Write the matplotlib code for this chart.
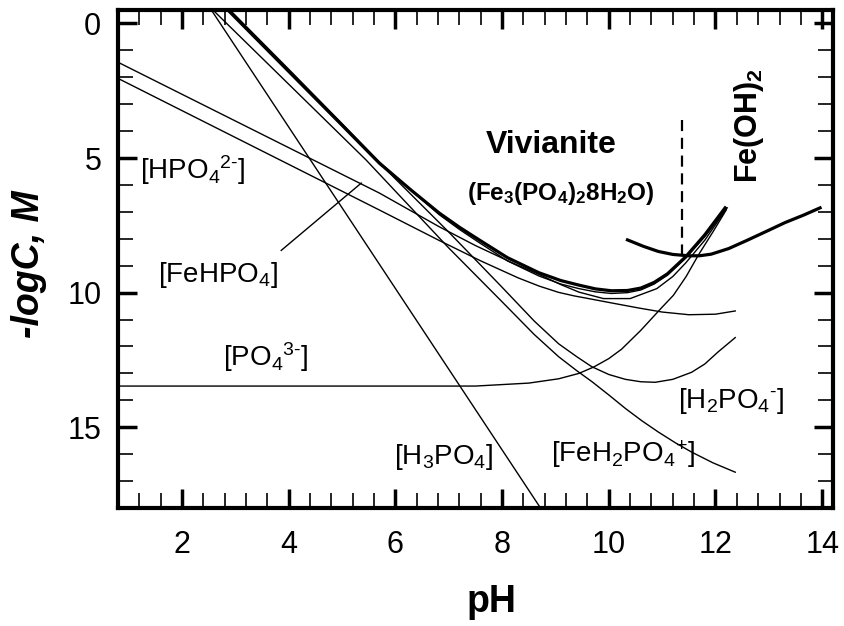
import matplotlib.pyplot as plt
from matplotlib.ticker import MultipleLocator

plt.rcParams['font.family'] = ['Liberation Sans', 'DejaVu Sans']
plt.rcParams['mathtext.fontset'] = 'custom'
plt.rcParams['mathtext.rm'] = 'Liberation Sans'
plt.rcParams['mathtext.it'] = 'Liberation Sans:italic'
plt.rcParams['mathtext.bf'] = 'Liberation Sans:bold'

# total dissolved (vivianite), thick
ph_tot = [2.86, 4.0, 5.0, 5.7, 6.3, 6.82, 7.2, 7.57, 8.1, 8.69, 9.1, 9.44, 9.75, 10.05, 10.35, 10.6, 10.85, 11.1, 11.44, 11.8, 12.18]
lc_tot = [-0.5, 1.78, 3.78, 5.19, 6.2, 7.04, 7.57, 8.04, 8.7, 9.26, 9.55, 9.72, 9.86, 9.93, 9.92, 9.83, 9.62, 9.3, 8.67, 7.85, 6.85]

# thin line hugging the total
ph_fe = [2.9, 4.0, 5.0, 5.7, 6.3, 6.82, 7.2, 7.57, 8.1, 8.69, 9.1, 9.44, 9.75, 10.05, 10.35, 10.6, 10.85, 11.1, 11.44, 11.8, 12.22]
lc_fe = [-0.5, 1.7, 3.72, 5.15, 6.2, 7.1, 7.65, 8.14, 8.82, 9.38, 9.68, 9.85, 9.97, 10.03, 10.0, 9.9, 9.68, 9.35, 8.72, 7.92, 6.85]

# slope-1 lines
ph_hpo4a = [0.8, 5.7, 6.82, 7.5, 8.2, 8.69, 9.1, 9.44, 9.9, 10.4, 10.9, 11.2, 11.44, 11.8, 12.2]
lc_hpo4a = [1.44, 6.3, 7.55, 8.25, 8.9, 9.32, 9.7, 9.98, 10.22, 10.22, 9.85, 9.4, 8.9, 8.05, 6.9]
ph_hpo4b = [0.8, 5.7, 6.82, 7.6, 8.3, 8.7, 9.06, 9.35, 9.62, 10.1, 10.56, 11.0, 11.5, 12.0, 12.37]
lc_hpo4b = [2.04, 6.93, 8.06, 8.82, 9.45, 9.76, 9.99, 10.12, 10.22, 10.4, 10.57, 10.72, 10.82, 10.8, 10.68]

# slope-2 pair
ph_h2po4 = [2.86, 5.7, 7.0, 8.0, 8.6, 9.06, 9.4, 9.68, 10.0, 10.31, 10.6, 10.87, 11.2, 11.55, 11.8, 12.05, 12.37]
lc_h2po4 = [-0.5, 5.18, 7.75, 9.8, 11.05, 11.9, 12.38, 12.75, 13.04, 13.22, 13.31, 13.33, 13.22, 12.96, 12.65, 12.2, 11.67]
ph_feh2po4 = [2.58, 5.45, 7.0, 8.0, 8.6, 9.06, 9.4, 9.68, 10.0, 10.31, 10.62, 10.93, 11.25, 11.55, 11.95, 12.37]
lc_feh2po4 = [-0.5, 5.07, 8.34, 10.34, 11.55, 12.38, 12.9, 13.3, 13.8, 14.3, 14.76, 15.18, 15.58, 15.92, 16.32, 16.67]

ph_h3po4 = [2.55, 8.72]
lc_h3po4 = [-0.5, 18.0]

ph_po4 = [0.8, 7.5, 8.5, 9.06, 9.44, 9.72, 10.0, 10.24, 10.6, 10.99, 11.21, 11.45, 11.68, 11.95, 12.2]
lc_po4 = [13.47, 13.47, 13.36, 13.2, 13.0, 12.76, 12.45, 12.1, 11.4, 10.56, 10.1, 9.4, 8.6, 7.75, 6.93]

# Fe(OH)2 solubility, thick
ph_feoh = [10.35, 10.65, 10.93, 11.2, 11.49, 11.7, 11.92, 12.25, 12.61, 13.0, 13.3, 13.65, 13.96]
lc_feoh = [8.04, 8.28, 8.47, 8.58, 8.63, 8.63, 8.57, 8.36, 8.04, 7.68, 7.4, 7.12, 6.85]

ph_bound = [11.38, 11.38]
lc_bound = [3.6, 8.6]

fig = plt.figure(figsize=(8.44, 6.26), dpi=100)
ax = fig.add_axes([0.1398, 0.1885, 0.847, 0.7955])

thin = dict(color='black', lw=1.0)
ax.plot(ph_tot, lc_tot, color='black', lw=2.3)
ax.plot(ph_fe, lc_fe, **thin)
ax.plot(ph_hpo4a, lc_hpo4a, **thin)
ax.plot(ph_hpo4b, lc_hpo4b, **thin)
ax.plot(ph_h2po4, lc_h2po4, **thin)
ax.plot(ph_feh2po4, lc_feh2po4, **thin)
ax.plot(ph_h3po4, lc_h3po4, **thin)
ax.plot(ph_po4, lc_po4, **thin)
ax.plot(ph_feoh, lc_feoh, color='black', lw=2.3)
ax.plot(ph_bound, lc_bound, color='black', lw=1.6, ls=(0, (5, 3)))
ax.plot([3.86, 5.36], [8.43, 5.93], **thin)  # pointer for FeHPO4

ax.set_xlim(0.8, 14.2)
ax.set_ylim(18, -0.5)
ax.xaxis.set_major_locator(MultipleLocator(2))
ax.xaxis.set_minor_locator(MultipleLocator(0.4))
ax.yaxis.set_major_locator(MultipleLocator(5))
ax.yaxis.set_minor_locator(MultipleLocator(1))
ax.tick_params(which='both', direction='in', top=True, right=True)
ax.tick_params(which='major', length=13.5, width=2.5, labelsize=22)
ax.tick_params(which='minor', length=10.5, width=1.2)
ax.tick_params(axis='x', which='major', pad=16)
ax.tick_params(axis='y', which='major', pad=12)
for s in ax.spines.values():
    s.set_linewidth(3)

ax.set_xlabel('pH', fontsize=27, fontweight='bold')
ax.set_ylabel('-logC, M', fontsize=27, fontweight='bold', fontstyle='italic')
ax.xaxis.set_label_coords(0.523, -0.152)
ax.yaxis.set_label_coords(-0.099, 0.49)

fs = 20
ax.text(1.21, 5.44, r'[HPO$_4{}^{2\text{-}}$]', fontsize=fs, va='center')
ax.text(1.55, 9.33, r'[FeHPO$_4$]', fontsize=fs, va='center')
ax.text(2.76, 12.4, r'[PO$_4{}^{3\text{-}}$]', fontsize=fs, va='center')
ax.text(5.98, 16.1, r'[H$_3$PO$_4$]', fontsize=fs, va='center')
ax.text(8.91, 16.0, r'[FeH$_2$PO$_4{}^{+}$]', fontsize=fs, va='center')
ax.text(11.3, 14.04, r'[H$_2$PO$_4{}^{\text{-}}$]', fontsize=fs, va='center')

ax.text(8.93, 4.52, 'Vivianite', fontsize=23, fontweight='bold', ha='center', va='center')
ax.text(9.10, 6.3, r'$\mathbf{(Fe_3(PO_4)_28H_2O)}$', fontsize=17.5, ha='center', va='center')
ax.text(12.62, 3.78, r'$\mathbf{Fe(OH)_2}$', fontsize=22, rotation=90, ha='center', va='center')

fig.savefig('out.png', dpi=100)
